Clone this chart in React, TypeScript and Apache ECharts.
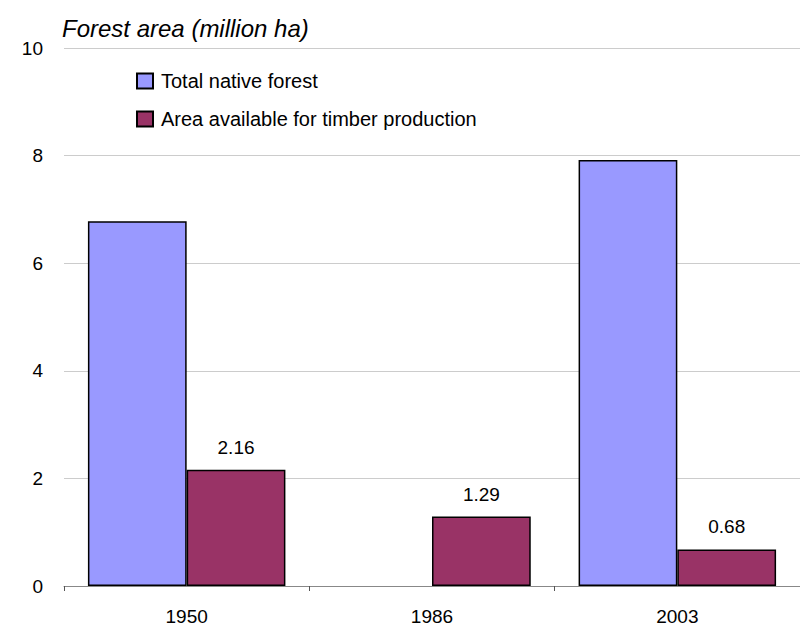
import React, { useEffect, useRef } from "react";
import * as echarts from "echarts";

const categories = ["1950", "1986", "2003"];
const totalNative: (number | string)[] = [6.78, "-", 7.92];
const timberArea = [2.16, 1.29, 0.68];
const yTicks = [0, 2, 4, 6, 8, 10];

const FONT = "'Liberation Sans', Arial, sans-serif";

export default function App() {
  const ref = useRef<HTMLDivElement>(null);
  useEffect(() => {
    if (!ref.current) return;
    const chart = echarts.init(ref.current, null, { renderer: "svg" });
    chart.setOption({
      animation: false,
      backgroundColor: "#fff",
      textStyle: { fontFamily: FONT },
      title: {
        text: "Forest area (million ha)",
        left: 57,
        top: 11,
        textStyle: { fontFamily: FONT, fontStyle: "italic", fontWeight: "normal", fontSize: 24, color: "#000" },
      },
      legend: {
        orient: "vertical",
        left: 131,
        top: 66,
        itemWidth: 16,
        itemHeight: 15,
        itemGap: 18,
        icon: "rect",
        textStyle: { fontFamily: FONT, fontSize: 20, color: "#000", padding: [0, 0, 0, 3] },
        data: ["Total native forest", "Area available for timber production"],
      },
      grid: { left: 64, right: -5, top: 48, bottom: 42 },
      xAxis: {
        type: "category",
        data: categories,
        axisLine: { lineStyle: { color: "#888", width: 1 } },
        axisTick: { show: true, length: 5, alignWithLabel: false, lineStyle: { color: "#555" } },
        axisLabel: { fontFamily: FONT, fontSize: 19, color: "#000", margin: 21 },
      },
      yAxis: {
        type: "value",
        min: yTicks[0],
        max: yTicks[yTicks.length - 1],
        interval: 2,
        axisLine: { show: false },
        axisTick: { show: false },
        splitLine: { lineStyle: { color: "#cccccc", width: 1 } },
        axisLabel: { fontFamily: FONT, fontSize: 19, color: "#000", margin: 21 },
      },
      series: [
        {
          name: "Total native forest",
          type: "bar",
          data: totalNative,
          barGap: "0%",
          barCategoryGap: "19.5%",
          itemStyle: { color: "#9999FF", borderColor: "#000", borderWidth: 1.5 },
        },
        {
          name: "Area available for timber production",
          type: "bar",
          data: timberArea,
          barGap: "0%",
          barCategoryGap: "19.5%",
          itemStyle: { color: "#993366", borderColor: "#000", borderWidth: 1.5 },
          label: {
            show: true,
            position: "top",
            distance: 13,
            fontFamily: FONT,
            fontSize: 19,
            color: "#000",
            formatter: (p: any) => Number(p.value).toFixed(2),
          },
        },
      ],
    });
    return () => chart.dispose();
  }, []);
  return <div ref={ref} style={{ width: 800, height: 628, position: "absolute", left: 0, top: 0 }} />;
}
